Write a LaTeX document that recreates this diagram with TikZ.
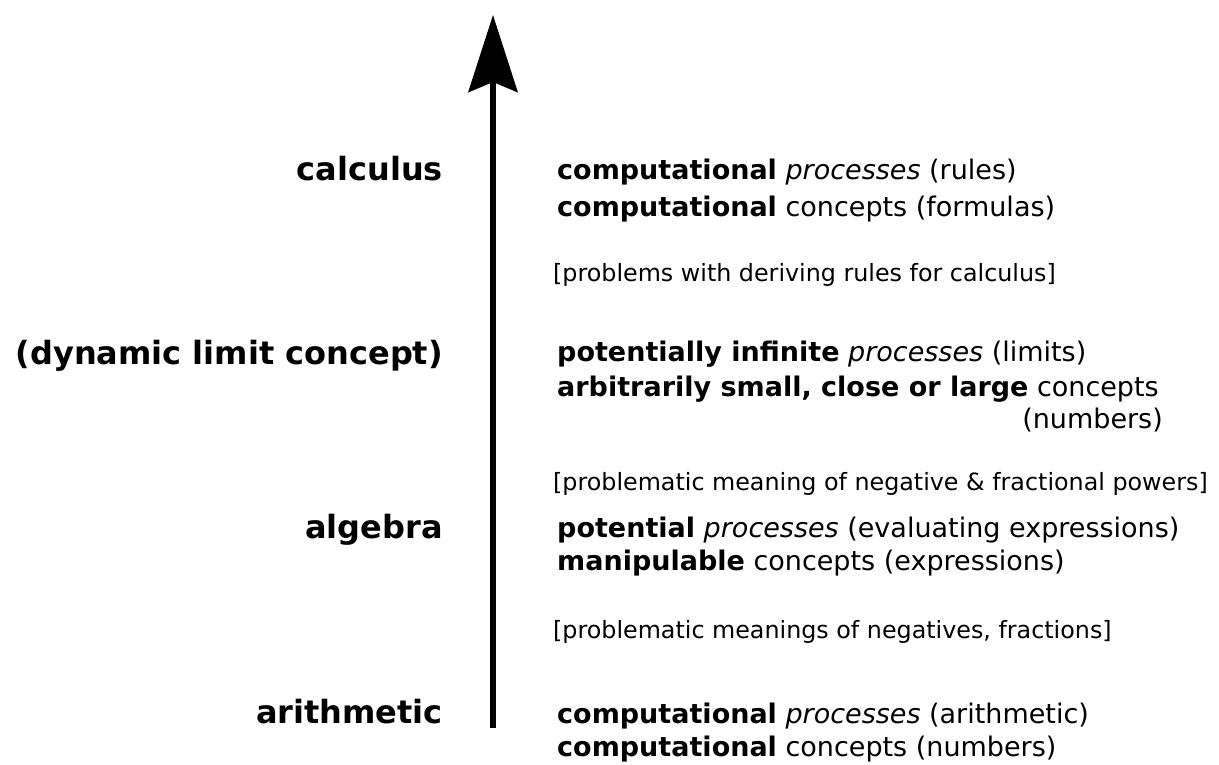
\documentclass[tikz,border=0pt]{standalone}
\usepackage{fontspec}
\setmainfont{DejaVu Sans}
\usetikzlibrary{arrows.meta}
\tikzset{
  lbl/.style={anchor=base east, inner sep=0pt, font=\fontsize{32}{36}\selectfont\bfseries},
  mainline/.style={anchor=base west, inner sep=0pt, font=\fontsize{27}{31}\selectfont},
  note/.style={anchor=base west, inner sep=0pt, font=\fontsize{23.8}{28}\selectfont},
  axis/.style={line width=6pt, -{Stealth[length=77pt, width=49pt, inset=10pt]}}
}
\newcommand{\bw}[1]{\textbf{#1}}
\newcommand{\pr}{\textit{processes}}
\begin{document}
\begin{tikzpicture}[x=1pt,y=-1pt]
\useasboundingbox (0,0) rectangle (1219,764);
\coordinate (bot) at (493,728);
\coordinate (top) at (493,15);
\draw[axis] (bot) -- (top);

\node[lbl] (calc) at (443,180) {calculus};
\node[lbl] (dyn) at (443,364) {(dynamic limit concept)};
\node[lbl] (alg) at (443,538) {algebra};
\node[lbl] (arith) at (443,723) {arithmetic};

\node[mainline] (c1) at (557,179) {\bw{computational} \pr{} (rules)};
\node[mainline] (c2) at (557,216) {\bw{computational} concepts (formulas)};
\node[note] (n1) at (553,281) {[problems with deriving rules for calculus]};

\node[mainline] (d1) at (557,361) {\bw{potentially infinite} \pr{} (limits)};
\node[mainline] (d2) at (557,396) {\bw{arbitrarily small, close or large} concepts};
\node[mainline, anchor=base east] (d3) at (1163,428) {(numbers)};
\node[note] (n2) at (553,490) {[problematic meaning of negative \& fractional powers]};

\node[mainline] (a1) at (557,537) {\bw{potential} \pr{} (evaluating expressions)};
\node[mainline] (a2) at (557,570) {\bw{manipulable} concepts (expressions)};
\node[note] (n3) at (553,638) {[problematic meanings of negatives, fractions]};

\node[mainline] (r1) at (557,723) {\bw{computational} \pr{} (arithmetic)};
\node[mainline] (r2) at (557,756) {\bw{computational} concepts (numbers)};
\end{tikzpicture}
\end{document}
